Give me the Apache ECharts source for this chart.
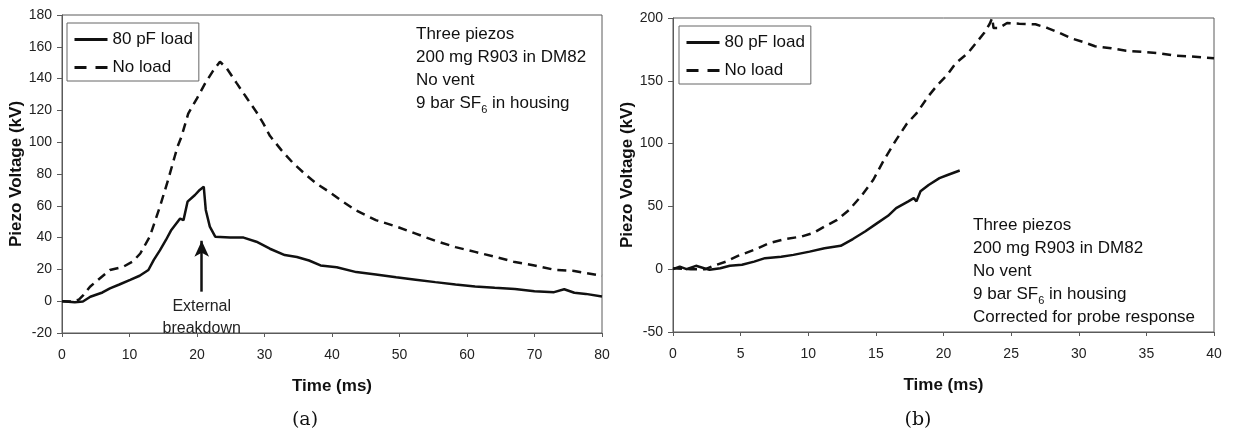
<!DOCTYPE html>
<html>
<head>
<meta charset="utf-8">
<script src="https://cdn.jsdelivr.net/npm/echarts@6/dist/echarts.min.js"></script>
<style>
  html, body { margin: 0; padding: 0; background: #fff; }
  #chart { width: 1233px; height: 435px; }
</style>
</head>
<body>
<div id="chart"></div>
<script>
// (a) 80 pF load, 0-80 ms
const timeA80 = [0, 1.9, 3.1, 4.2, 6, 7.1, 8.5, 10.1, 11.5, 12.8, 13.6, 14.5, 15.4, 16.2, 17.5, 18, 18.6, 19.7, 20.4, 21, 21.3, 21.9, 22.7,
  24.9, 26.9, 28.8, 30.8, 33, 34.8, 36.6, 38.3, 40.7, 43.6, 46.5, 49.5, 52.4, 55.3, 58.3, 61.2, 64.1, 67.1, 70, 72.9, 74.4, 75.9, 77.6, 80];
const voltA80 = [0, -0.6, -0.2, 2.8, 5.5, 8.1, 10.5, 13.4, 16, 19.6, 26, 32, 38.5, 44.8, 52, 51, 62.6, 66.8, 70, 72, 57.4, 46.9, 40.6,
  40, 40, 37.4, 33, 29, 27.8, 25.6, 22.5, 21.4, 18.3, 16.8, 15, 13.5, 12, 10.5, 9.2, 8.4, 7.6, 6.3, 5.7, 7.5, 5.3, 4.6, 3];

// (a) no load
const timeANo = [0, 1.5, 2.5, 3.2, 4.15, 5.5, 7.1, 9.1, 10.5, 11.6, 13, 14.5, 15.7, 16.7, 17.1, 17.7, 18.7, 20, 21.2, 22.4, 23.4,
  24.4, 25.9, 27.4, 28.8, 29.8, 30.8, 32.5, 34.2, 36, 37.7, 39.5, 41.3, 43.6, 46.5, 49.5, 52.4, 55.3, 58.3, 61.2, 64.1, 67.1, 70, 72.9, 75.9, 77.6, 80];
const voltANo = [0, -0.3, 1, 4, 9.1, 14, 19.6, 21.7, 25, 30, 40.6, 59.4, 76, 91, 97, 103.5, 118, 127.6, 137, 145, 150.6,
  146.5, 137, 127.6, 119, 112, 104, 95, 87, 80, 74, 69, 63.5, 57, 51, 47, 42.5, 38, 34, 31, 28, 24.6, 22.5, 19.8, 19, 17.7, 16];

// (b) 80 pF load, 0-40 ms, corrected
const timeB80 = [0, 0.5, 1, 1.7, 2.3, 2.7, 3.5, 4.2, 5.1, 6, 6.8, 8, 8.9, 10.1, 11.2, 12.4, 13.3, 14.2, 15.1, 15.9, 16.5, 17.4, 17.8, 18,
  18.3, 18.9, 19.7, 20.3, 21.2];
const voltB80 = [0, 2, 0, 2.7, 0.8, -0.5, 0.8, 2.7, 3.5, 6, 8.8, 10, 11.4, 14, 16.7, 18.6, 24, 30, 36.7, 42.5, 48.6, 54, 56.6, 54,
  62, 67, 72.5, 75, 78.6];

// (b) no load
const timeBNo = [0, 1.3, 2.4, 3, 3.9, 4.8, 6, 7.1, 8.3, 9.5, 10.4, 11.2, 12.1, 13, 13.9, 14.8, 15.6, 16.5, 17.3, 18, 18.9, 19.5, 20.3,
  20.9, 21.8, 22.4, 23, 23.4, 23.6, 23.7, 24.1, 24.7, 25.6, 26.8, 27.7, 28.6, 29.4, 30.3, 31.2, 32.4, 33.5, 34.7, 35.9, 37.1, 38.2, 40];
const voltBNo = [0.8, 0, 0, 2.7, 6, 10.6, 15.4, 20.7, 24, 26, 29, 34, 39, 47, 58, 71, 87, 103, 116, 124, 138, 146, 155,
  164, 172, 180, 188, 195, 200, 192, 192, 196, 195.5, 195, 192, 188, 184, 181, 177.5, 176, 174, 173, 172, 170, 169.5, 168];

// arrow "External breakdown" in (a), data units
const arrowTime = 20.7;
const arrowFrom = 6;
const arrowTo = 38;

const noteA = 'Three piezos\n200 mg R903 in DM82\nNo vent\n9 bar SF{sub|6} in housing';
const noteB = 'Three piezos\n200 mg R903 in DM82\nNo vent\n9 bar SF{sub|6} in housing\nCorrected for probe response';

const FONT = '"Liberation Sans", Arial, sans-serif';
const AXIS_COLOR = '#5a5a5a';

const zip = (xs, ys) => xs.map((x, i) => [x, ys[i]]);

const xAxis = (gridIndex, max, interval) => ({
    type: 'value',
    gridIndex,
    min: 0,
    max,
    interval,
    name: 'Time (ms)',
    nameLocation: 'middle',
    nameGap: 45,
    nameTextStyle: { fontFamily: FONT, fontWeight: 'bold', fontSize: 17, color: '#111' },
    axisLine: { show: true, onZero: false, lineStyle: { color: AXIS_COLOR, width: 1 } },
    axisTick: { show: true, length: 4, lineStyle: { color: AXIS_COLOR } },
    axisLabel: { fontFamily: FONT, fontSize: 14, color: '#222', margin: 15 },
    splitLine: { show: false },
});

const yAxis = (gridIndex, min, max, interval, gap) => ({
    type: 'value',
    gridIndex,
    min,
    max,
    interval,
    name: 'Piezo Voltage (kV)',
    nameLocation: 'middle',
    nameGap: gap,
    nameTextStyle: { fontFamily: FONT, fontWeight: 'bold', fontSize: 17, color: '#111' },
    axisLine: { show: true, onZero: false, lineStyle: { color: AXIS_COLOR, width: 1 } },
    axisTick: { show: true, length: 5, lineStyle: { color: AXIS_COLOR } },
    axisLabel: { fontFamily: FONT, fontSize: 14, color: '#222', margin: 10 },
    splitLine: { show: false },
});

const line = (name, idx, data, dashed) => ({
    name,
    type: 'line',
    xAxisIndex: idx,
    yAxisIndex: idx,
    data,
    symbol: 'none',
    showSymbol: false,
    animation: false,
    lineStyle: { color: '#111', width: 2.5, type: dashed ? [9, 6] : 'solid' },
    itemStyle: { color: '#111' },
});

const legend = (left, top) => ({
    orient: 'vertical',
    left,
    top,
    data: [
        { name: '80 pF load', lineStyle: { type: 'solid', width: 3 } },
        { name: 'No load', lineStyle: { type: [12, 9], width: 3 } },
    ],
    itemWidth: 33,
    itemHeight: 14,
    itemGap: 11,
    padding: [8, 6, 5, 6],
    borderColor: '#666',
    borderWidth: 1,
    selectedMode: false,
    // line series draw a circle in the legend icon; hide it, keep the line
    itemStyle: { opacity: 0 },
    textStyle: { fontFamily: FONT, fontSize: 17, color: '#111' },
});

const note = (x, y, text) => ({
    type: 'text',
    x,
    y,
    style: {
        text,
        font: '17px ' + FONT,
        fill: '#111',
        lineHeight: 23,
        rich: { sub: { fontSize: 11, lineHeight: 12, verticalAlign: 'bottom', fontFamily: FONT } },
    },
});

const caption = (x, text) => ({
    type: 'text',
    x,
    y: 420,
    style: { text, font: '19px "DejaVu Serif", serif', fill: '#111', align: 'center', verticalAlign: 'middle' },
});

const arrowSeries = line('80 pF load', 0, zip(timeA80, voltA80), false);
arrowSeries.markLine = {
    silent: true,
    animation: false,
    symbol: ['none', 'arrow'],
    symbolSize: [11, 16],
    lineStyle: { color: '#111', width: 2.5, type: 'solid' },
    label: {
        show: true,
        position: 'start',
        distance: 4,
        formatter: 'External\nbreakdown',
        fontFamily: FONT,
        fontSize: 16,
        lineHeight: 22,
        color: '#222',
    },
    data: [[{ coord: [arrowTime, arrowFrom] }, { coord: [arrowTime, arrowTo] }]],
};

const option = {
    backgroundColor: '#fff',
    animation: false,
    grid: [
        { left: 62, top: 15, width: 540, height: 318, show: true, borderColor: AXIS_COLOR, borderWidth: 1 },
        { left: 673, top: 18, width: 541, height: 314, show: true, borderColor: AXIS_COLOR, borderWidth: 1 },
    ],
    xAxis: [xAxis(0, 80, 10), xAxis(1, 40, 5)],
    yAxis: [yAxis(0, -20, 180, 20, 33), yAxis(1, -50, 200, 50, 30)],
    legend: [legend(67, 23), legend(679, 26)],
    series: [
        arrowSeries,
        line('No load', 0, zip(timeANo, voltANo), true),
        line('80 pF load', 1, zip(timeB80, voltB80), false),
        line('No load', 1, zip(timeBNo, voltBNo), true),
    ],
    graphic: [
        note(416, 23, noteA),
        note(973, 214, noteB),
        caption(305, '(a)'),
        caption(918, '(b)'),
    ],
};

const chart = echarts.init(document.getElementById('chart'));
chart.setOption(option);
</script>
</body>
</html>
